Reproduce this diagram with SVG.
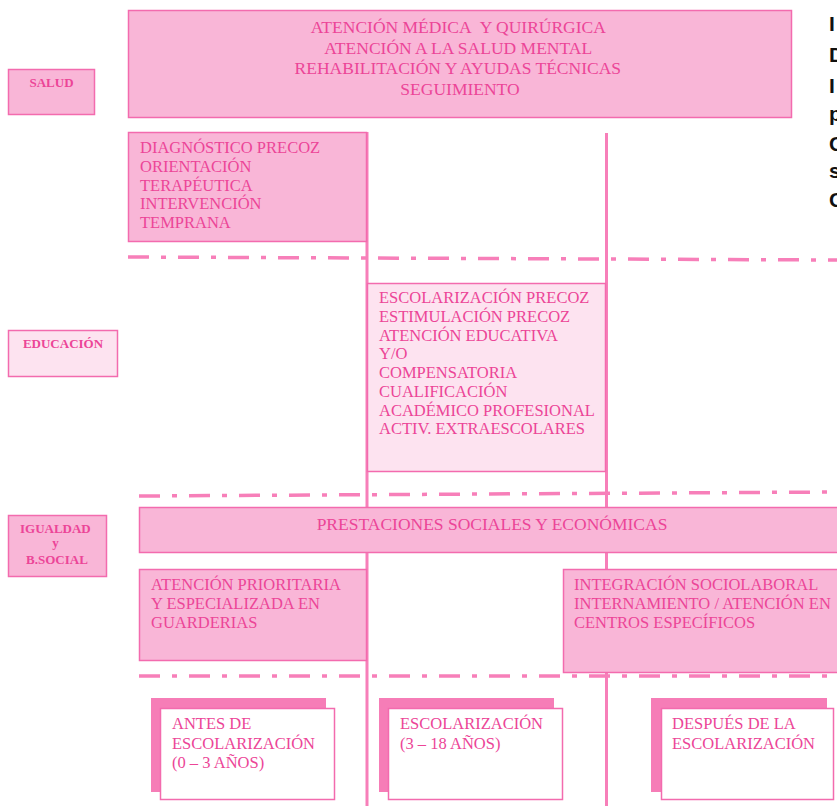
<svg xmlns="http://www.w3.org/2000/svg" width="837" height="806" viewBox="0 0 837 806">
<style>
.t{font-family:"Liberation Serif","Times New Roman",serif;fill:#ec4597;}
.big{font-size:17.5px;}
.mid{font-size:16.5px;}
.lab{font-size:13px;font-weight:bold;}
.box{fill:#f9b6d7;stroke:#f36bae;stroke-width:1.5;}
.lt{fill:#fde3f0;stroke:#f36bae;stroke-width:1.5;}
.sh{fill:#f67db7;}
.wb{fill:#ffffff;stroke:#f36bae;stroke-width:1.5;}
.vl{stroke:#f77fb9;stroke-width:3;fill:none;}
.dd{stroke:#f77fb9;stroke-width:3.5;fill:none;stroke-dasharray:21 12 5 12;}
.cut{font-family:"Liberation Sans",Arial,sans-serif;font-size:21px;font-weight:bold;fill:#111;}
</style>
<rect width="837" height="806" fill="#ffffff"/>

<g id="connectors">
<line class="vl" x1="367" y1="132" x2="367" y2="806"/>
<line class="vl" x1="606.5" y1="133" x2="606.5" y2="806"/>
<line class="dd" x1="128" y1="257" x2="837" y2="260"/>
<line class="dd" x1="139" y1="496" x2="837" y2="492"/>
<line class="dd" x1="139" y1="676" x2="837" y2="676"/>
</g>

<g id="salud">
<rect class="box" x="8.5" y="69.5" width="86" height="45"/>
<text class="t lab" x="51.5" y="87" text-anchor="middle">SALUD</text>
</g>

<g id="atencion-medica">
<rect class="box" x="128.5" y="10.5" width="663" height="107"/>
<text class="t big" text-anchor="middle">
<tspan x="460" y="33">ATENCIÓN MÉDICA&#160; Y QUIRÚRGICA</tspan>
<tspan x="460" y="53.5">ATENCIÓN A LA SALUD MENTAL</tspan>
<tspan x="460" y="74">REHABILITACIÓN Y AYUDAS TÉCNICAS</tspan>
<tspan x="460" y="94.5">SEGUIMIENTO</tspan>
</text>
</g>

<g id="diagnostico">
<rect class="box" x="128.5" y="132.5" width="238" height="109"/>
<text class="t mid">
<tspan x="140" y="153">DIAGNÓSTICO PRECOZ</tspan>
<tspan x="140" y="171.8">ORIENTACIÓN</tspan>
<tspan x="140" y="190.6">TERAPÉUTICA</tspan>
<tspan x="140" y="209.4">INTERVENCIÓN</tspan>
<tspan x="140" y="228.2">TEMPRANA</tspan>
</text>
</g>

<g id="educacion">
<rect class="lt" x="8.5" y="330.5" width="109" height="46"/>
<text class="t lab" x="63" y="348" text-anchor="middle">EDUCACIÓN</text>
</g>

<g id="escolarizacion-precoz">
<rect class="lt" x="367.5" y="283.5" width="238" height="188"/>
<text class="t mid">
<tspan x="379" y="303.3">ESCOLARIZACIÓN PRECOZ</tspan>
<tspan x="379" y="322">ESTIMULACIÓN PRECOZ</tspan>
<tspan x="379" y="340.7">ATENCIÓN EDUCATIVA</tspan>
<tspan x="379" y="359.4">Y/O</tspan>
<tspan x="379" y="378.1">COMPENSATORIA</tspan>
<tspan x="379" y="396.8">CUALIFICACIÓN</tspan>
<tspan x="379" y="415.5">ACADÉMICO PROFESIONAL</tspan>
<tspan x="379" y="434.2">ACTIV. EXTRAESCOLARES</tspan>
</text>
</g>

<g id="igualdad">
<rect class="box" x="8.5" y="515.5" width="98" height="61"/>
<text class="t lab" text-anchor="middle">
<tspan x="57" y="533">IGUALDAD</tspan>
<tspan x="57" y="547">y</tspan>
<tspan x="57" y="564">B.SOCIAL</tspan>
</text>
</g>

<g id="prestaciones">
<rect class="box" x="139.5" y="507.5" width="700" height="45"/>
<text class="t big" x="492" y="530" text-anchor="middle">PRESTACIONES SOCIALES Y ECONÓMICAS</text>
</g>

<g id="guarderias">
<rect class="box" x="139.5" y="569.5" width="227" height="91"/>
<text class="t mid">
<tspan x="151" y="590">ATENCIÓN PRIORITARIA</tspan>
<tspan x="151" y="609">Y ESPECIALIZADA EN</tspan>
<tspan x="151" y="628">GUARDERIAS</tspan>
</text>
</g>

<g id="integracion">
<rect class="box" x="563.5" y="569.5" width="280" height="103"/>
<text class="t mid">
<tspan x="574" y="590">INTEGRACIÓN SOCIOLABORAL</tspan>
<tspan x="574" y="609">INTERNAMIENTO / ATENCIÓN EN</tspan>
<tspan x="574" y="628">CENTROS ESPECÍFICOS</tspan>
</text>
</g>

<g id="antes">
<rect class="sh" x="151" y="698" width="175" height="94"/>
<rect class="wb" x="160.5" y="708.5" width="174" height="91"/>
<text class="t mid">
<tspan x="172" y="729">ANTES DE</tspan>
<tspan x="172" y="748.5">ESCOLARIZACIÓN</tspan>
<tspan x="172" y="768">(0 – 3 AÑOS)</tspan>
</text>
</g>

<g id="escolarizacion">
<rect class="sh" x="379" y="698" width="175" height="94"/>
<rect class="wb" x="388.5" y="708.5" width="174" height="91"/>
<text class="t mid">
<tspan x="400" y="729">ESCOLARIZACIÓN</tspan>
<tspan x="400" y="748.5">(3 – 18 AÑOS)</tspan>
</text>
</g>

<g id="despues">
<rect class="sh" x="651" y="698" width="176" height="94"/>
<rect class="wb" x="661.5" y="708.5" width="172" height="91"/>
<text class="t mid">
<tspan x="672" y="729">DESPUÉS DE LA</tspan>
<tspan x="672" y="748.5">ESCOLARIZACIÓN</tspan>
</text>
</g>

<g id="cut-text">
<text class="cut" x="829" y="31">I</text>
<text class="cut" x="829" y="62">D</text>
<text class="cut" x="829" y="93">I</text>
<text class="cut" x="829" y="121">p</text>
<text class="cut" x="829" y="151">C</text>
<text class="cut" x="829" y="178">s</text>
<text class="cut" x="829" y="207">C</text>
</g>
</svg>
